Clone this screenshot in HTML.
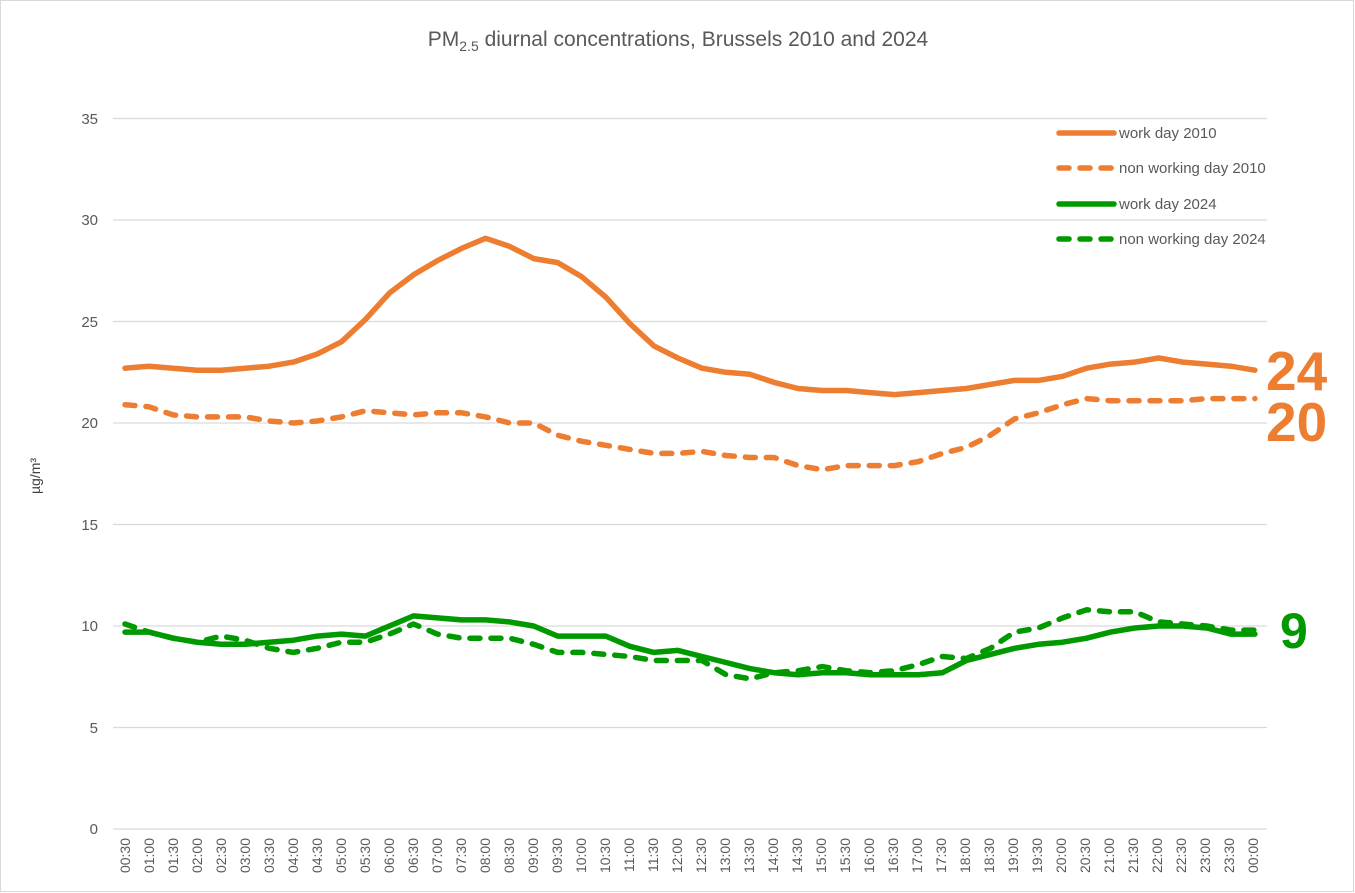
<!DOCTYPE html>
<html><head><meta charset="utf-8"><style>
html,body{margin:0;padding:0;background:#fff;}
svg{display:block;font-family:"Liberation Sans",Arial,sans-serif;}
</style></head><body>
<svg id="s" width="1355" height="893" xmlns="http://www.w3.org/2000/svg">
<rect x="0.5" y="0.5" width="1353" height="891" fill="#fff" stroke="#d9d9d9"/>
<text x="678" y="46" text-anchor="middle" font-size="21" fill="#595959">PM<tspan font-size="14" dy="5">2.5</tspan><tspan dy="-5"> diurnal concentrations, Brussels 2010 and 2024</tspan></text>
<g stroke="#d9d9d9" stroke-width="1.3">
<line x1="113" x2="1267" y1="118.5" y2="118.5"/><line x1="113" x2="1267" y1="220" y2="220"/>
<line x1="113" x2="1267" y1="321.5" y2="321.5"/><line x1="113" x2="1267" y1="423" y2="423"/>
<line x1="113" x2="1267" y1="524.5" y2="524.5"/><line x1="113" x2="1267" y1="626" y2="626"/>
<line x1="113" x2="1267" y1="727.5" y2="727.5"/><line x1="113" x2="1267" y1="829" y2="829"/>
</g>
<g font-size="15" fill="#595959" text-anchor="end">
<text x="98" y="124">35</text><text x="98" y="225">30</text><text x="98" y="327">25</text><text x="98" y="428">20</text>
<text x="98" y="530">15</text><text x="98" y="631">10</text><text x="98" y="733">5</text><text x="98" y="834">0</text>
</g>
<text transform="translate(40,476) rotate(-90)" text-anchor="middle" font-size="14" fill="#404040">µg/m³</text>
<g id="xl" font-size="14" fill="#595959" text-anchor="end">
<text transform="translate(130,838) rotate(-90)">00:30</text><text transform="translate(154,838) rotate(-90)">01:00</text><text transform="translate(178,838) rotate(-90)">01:30</text><text transform="translate(202,838) rotate(-90)">02:00</text><text transform="translate(226,838) rotate(-90)">02:30</text><text transform="translate(250,838) rotate(-90)">03:00</text><text transform="translate(274,838) rotate(-90)">03:30</text><text transform="translate(298,838) rotate(-90)">04:00</text><text transform="translate(322,838) rotate(-90)">04:30</text><text transform="translate(346,838) rotate(-90)">05:00</text><text transform="translate(370,838) rotate(-90)">05:30</text><text transform="translate(394,838) rotate(-90)">06:00</text><text transform="translate(418,838) rotate(-90)">06:30</text><text transform="translate(442,838) rotate(-90)">07:00</text><text transform="translate(466,838) rotate(-90)">07:30</text><text transform="translate(490,838) rotate(-90)">08:00</text><text transform="translate(514,838) rotate(-90)">08:30</text><text transform="translate(538,838) rotate(-90)">09:00</text><text transform="translate(562,838) rotate(-90)">09:30</text><text transform="translate(586,838) rotate(-90)">10:00</text><text transform="translate(610,838) rotate(-90)">10:30</text><text transform="translate(634,838) rotate(-90)">11:00</text><text transform="translate(658,838) rotate(-90)">11:30</text><text transform="translate(682,838) rotate(-90)">12:00</text><text transform="translate(706,838) rotate(-90)">12:30</text><text transform="translate(730,838) rotate(-90)">13:00</text><text transform="translate(754,838) rotate(-90)">13:30</text><text transform="translate(778,838) rotate(-90)">14:00</text><text transform="translate(802,838) rotate(-90)">14:30</text><text transform="translate(826,838) rotate(-90)">15:00</text><text transform="translate(850,838) rotate(-90)">15:30</text><text transform="translate(874,838) rotate(-90)">16:00</text><text transform="translate(898,838) rotate(-90)">16:30</text><text transform="translate(922,838) rotate(-90)">17:00</text><text transform="translate(946,838) rotate(-90)">17:30</text><text transform="translate(970,838) rotate(-90)">18:00</text><text transform="translate(994,838) rotate(-90)">18:30</text><text transform="translate(1018,838) rotate(-90)">19:00</text><text transform="translate(1042,838) rotate(-90)">19:30</text><text transform="translate(1066,838) rotate(-90)">20:00</text><text transform="translate(1090,838) rotate(-90)">20:30</text><text transform="translate(1114,838) rotate(-90)">21:00</text><text transform="translate(1138,838) rotate(-90)">21:30</text><text transform="translate(1162,838) rotate(-90)">22:00</text><text transform="translate(1186,838) rotate(-90)">22:30</text><text transform="translate(1210,838) rotate(-90)">23:00</text><text transform="translate(1234,838) rotate(-90)">23:30</text><text transform="translate(1258,838) rotate(-90)">00:00</text>
</g>
<g fill="none" stroke-width="5.5" stroke-linecap="round" stroke-linejoin="round">
<polyline id="a" stroke="#ED7D31"/>
<polyline id="b" stroke="#ED7D31" stroke-dasharray="10 11"/>
<polyline id="c" stroke="#009900"/>
<polyline id="d" stroke="#009900" stroke-dasharray="10 11"/>
</g>
<g stroke-width="5.5" stroke-linecap="round">
<line x1="1059" x2="1114" y1="133" y2="133" stroke="#ED7D31"/>
<line x1="1059" x2="1114" y1="168" y2="168" stroke="#ED7D31" stroke-dasharray="10 11"/>
<line x1="1059" x2="1114" y1="204" y2="204" stroke="#009900"/>
<line x1="1059" x2="1114" y1="239" y2="239" stroke="#009900" stroke-dasharray="10 11"/>
</g>
<g font-size="15" fill="#595959">
<text x="1119" y="138">work day 2010</text>
<text x="1119" y="173">non working day 2010</text>
<text x="1119" y="209">work day 2024</text>
<text x="1119" y="244">non working day 2024</text>
</g>
<g font-weight="bold" font-size="55">
<text x="1266" y="390" fill="#ED7D31">24</text>
<text x="1266" y="441" fill="#ED7D31">20</text>
<text x="1280" y="648" fill="#009900" font-size="50">9</text>
</g>
</svg>
<script>
var D={
a:[22.7,22.8,22.7,22.6,22.6,22.7,22.8,23.0,23.4,24.0,25.1,26.4,27.3,28.0,28.6,29.1,28.7,28.1,27.9,27.2,26.2,24.9,23.8,23.2,22.7,22.5,22.4,22.0,21.7,21.6,21.6,21.5,21.4,21.5,21.6,21.7,21.9,22.1,22.1,22.3,22.7,22.9,23.0,23.2,23.0,22.9,22.8,22.6],
b:[20.9,20.8,20.4,20.3,20.3,20.3,20.1,20.0,20.1,20.3,20.6,20.5,20.4,20.5,20.5,20.3,20.0,20.0,19.4,19.1,18.9,18.7,18.5,18.5,18.6,18.4,18.3,18.3,17.9,17.7,17.9,17.9,17.9,18.1,18.5,18.8,19.4,20.2,20.5,20.9,21.2,21.1,21.1,21.1,21.1,21.2,21.2,21.2],
c:[9.7,9.7,9.4,9.2,9.1,9.1,9.2,9.3,9.5,9.6,9.5,10.0,10.5,10.4,10.3,10.3,10.2,10.0,9.5,9.5,9.5,9.0,8.7,8.8,8.5,8.2,7.9,7.7,7.6,7.7,7.7,7.6,7.6,7.6,7.7,8.3,8.6,8.9,9.1,9.2,9.4,9.7,9.9,10.0,10.0,9.9,9.6,9.6],
d:[10.1,9.7,9.4,9.2,9.5,9.3,8.9,8.7,8.9,9.2,9.2,9.6,10.1,9.6,9.4,9.4,9.4,9.1,8.7,8.7,8.6,8.5,8.3,8.3,8.3,7.6,7.4,7.7,7.8,8.0,7.8,7.7,7.8,8.1,8.5,8.4,8.9,9.7,9.9,10.4,10.8,10.7,10.7,10.2,10.1,10.0,9.8,9.8]};
for(var k in D){var p=D[k].map(function(v,i){return (125+i*24.04).toFixed(1)+","+(829-v*20.3).toFixed(1)}).join(" ");document.getElementById(k).setAttribute("points",p);}
</script>
</body></html>
